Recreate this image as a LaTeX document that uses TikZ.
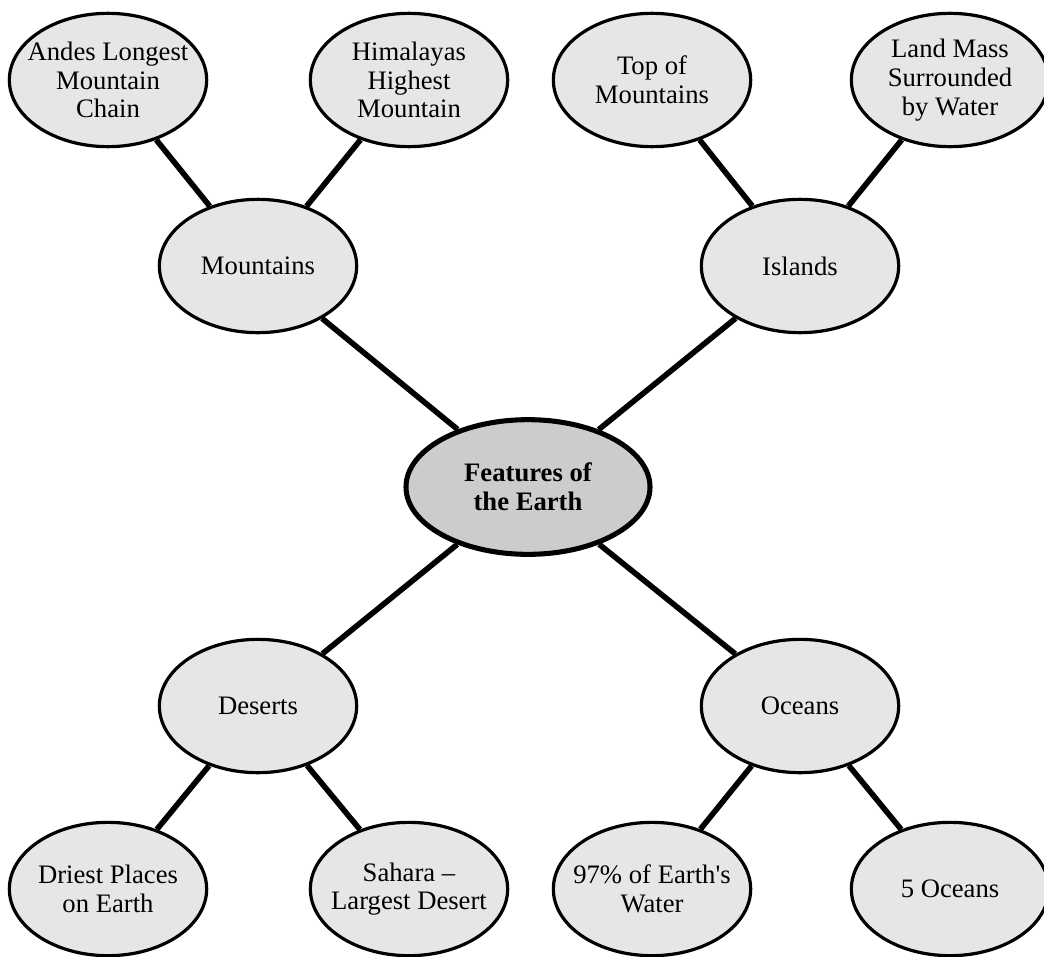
\documentclass[tikz,border=0pt]{standalone}
\usepackage{fontspec}
\setmainfont{Liberation Serif}
\usetikzlibrary{shapes.geometric,backgrounds}
\definecolor{bubble}{HTML}{E6E6E6}
\definecolor{hub}{HTML}{CCCCCC}
\tikzset{
  bubble/.style={ellipse, draw=black, line width=2.4pt, fill=bubble,
    minimum width=148pt, minimum height=100pt, inner ysep=0pt, inner xsep=-30pt,
    align=center, font=\fontsize{20}{21.5}\selectfont},
  hubnode/.style={bubble, fill=hub, line width=3.8pt,
    minimum width=183pt, minimum height=101pt, font=\fontsize{20}{21.5}\selectfont\bfseries},
  link/.style={line width=4.2pt, black}
}
\begin{document}
\begin{tikzpicture}[x=0.75pt, y=-0.75pt]
\useasboundingbox (0,0) rectangle (1044,956);
% central topic
\node[hubnode] (earth) at (528,487) {Features of\\the Earth};
% four main branches
\node[bubble] (mount) at (258,266) {Mountains};
\node[bubble] (isl) at (800,266) {Islands};
\node[bubble] (des) at (258,706) {Deserts};
\node[bubble] (oce) at (800,706) {Oceans};
% leaves
\node[bubble] (andes) at (108,80) {Andes Longest\\Mountain\\Chain};
\node[bubble] (himal) at (409,80) {Himalayas\\Highest\\Mountain};
\node[bubble] (top) at (652,80) {Top of\\Mountains};
\node[bubble] (land) at (950,80) {Land Mass\\Surrounded\\by Water};
\node[bubble] (dry) at (108,889) {Driest Places\\on Earth};
\node[bubble] (sahara) at (409,889) {Sahara --\\Largest Desert};
\node[bubble] (water) at (652,889) {97\% of Earth\textquotesingle s\\Water};
\node[bubble] (five) at (950,889) {5 Oceans};
% connectors
\begin{scope}[on background layer]
\draw[link] (earth) -- (mount);
\draw[link] (earth) -- (isl);
\draw[link] (earth) -- (des);
\draw[link] (earth) -- (oce);
\draw[link] (mount) -- (andes);
\draw[link] (mount) -- (himal);
\draw[link] (isl) -- (top);
\draw[link] (isl) -- (land);
\draw[link] (des) -- (dry);
\draw[link] (des) -- (sahara);
\draw[link] (oce) -- (water);
\draw[link] (oce) -- (five);
\end{scope}
\end{tikzpicture}
\end{document}
